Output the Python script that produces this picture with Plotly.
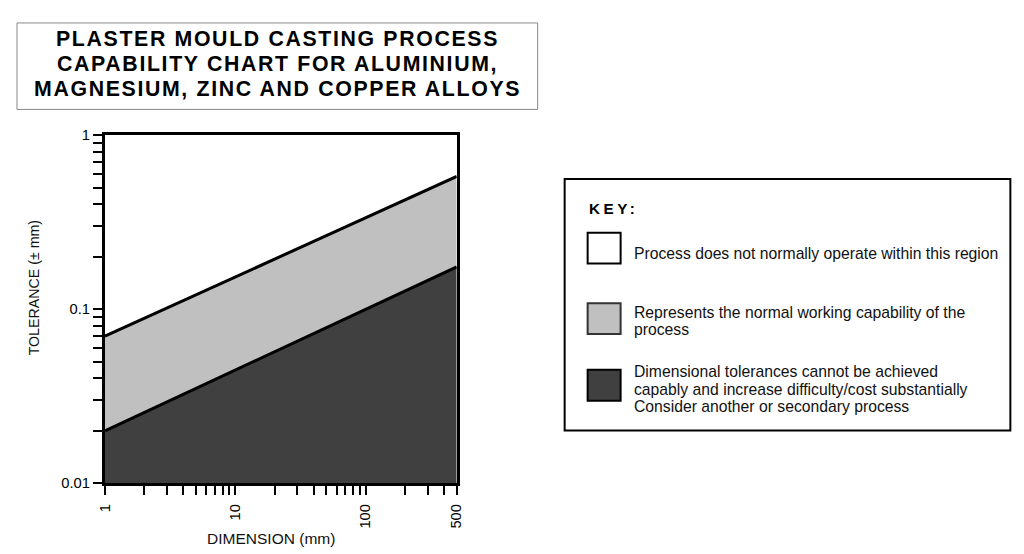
import math
import plotly.graph_objects as go

# ---- data ----
dimension_mm = [1, 500]
upper_limit = [0.07, 0.58]     # boundary between white and light grey
lower_limit = [0.02, 0.175]    # boundary between light grey and dark grey
floor_tol = [0.01, 0.01]       # bottom of chart

x_tick_vals = [1, 2, 3, 4, 5, 6, 7, 8, 9, 10, 20, 30, 40, 50, 60, 70, 80, 90,
               100, 200, 300, 400, 500]
x_tick_labels = {1: "1", 10: "10", 100: "100", 500: "500"}
y_tick_vals = [0.01, 0.02, 0.03, 0.04, 0.05, 0.06, 0.07, 0.08, 0.09,
               0.1, 0.2, 0.3, 0.4, 0.5, 0.6, 0.7, 0.8, 0.9, 1]
y_tick_labels = {0.01: "0.01", 0.1: "0.1", 1: "1"}

title_lines = ["PLASTER MOULD CASTING PROCESS",
               "CAPABILITY CHART FOR ALUMINIUM,",
               "MAGNESIUM, ZINC AND COPPER ALLOYS"]
key_texts = [
    ["Process does not normally operate within this region"],
    ["Represents the normal working capability of the", "process"],
    ["Dimensional tolerances cannot be achieved",
     "capably and increase difficulty/cost substantially",
     "Consider another or secondary process"],
]
key_fills = ["#ffffff", "#c0c0c0", "#404040"]
key_borders = ["#000000", "#333333", "#000000"]

W, H = 1024, 554
FONT = "Liberation Sans, Arial, sans-serif"
DARK = "#404040"
LIGHT = "#c0c0c0"

# calibration of rendered page vs layout pixels
SX, OX = 0.985, 15.0
SY, OY = 0.977, 14.0

def px(x):
    return ((x - OX) / SX) / W

def py(y):
    return 1 - ((y - OY) / SY) / H

def fs(s):
    return s / SX

fig = go.Figure()
fig.add_trace(go.Scatter(x=dimension_mm, y=floor_tol, mode="lines",
                         line=dict(width=0, color=DARK), hoverinfo="skip", showlegend=False))
fig.add_trace(go.Scatter(x=dimension_mm, y=lower_limit, mode="lines", fill="tonexty",
                         fillcolor=DARK, line=dict(width=0, color=DARK), showlegend=False))
fig.add_trace(go.Scatter(x=dimension_mm, y=upper_limit, mode="lines", fill="tonexty",
                         fillcolor=LIGHT, line=dict(width=0, color=LIGHT), showlegend=False))
fig.add_trace(go.Scatter(x=dimension_mm, y=lower_limit, mode="lines",
                         line=dict(width=3, color="#000000"), showlegend=False))
fig.add_trace(go.Scatter(x=dimension_mm, y=upper_limit, mode="lines",
                         line=dict(width=3, color="#000000"), showlegend=False))

fig.update_xaxes(
    type="log", range=[0, math.log10(500)],
    domain=[px(104), px(456)],
    tickmode="array", tickvals=x_tick_vals,
    ticktext=[x_tick_labels.get(v, "") for v in x_tick_vals],
    ticks="outside", ticklen=9, tickwidth=2, tickcolor="#000",
    tickangle=-90, tickfont=dict(family=FONT, size=fs(14.5), color="#000"),
    ticklabelstandoff=3,
    showline=True, linewidth=3, linecolor="#000", mirror=True,
    showgrid=False, zeroline=False,
)
fig.update_yaxes(
    type="log", range=[-2, 0],
    domain=[py(484), py(134)],
    tickmode="array", tickvals=y_tick_vals,
    ticktext=[y_tick_labels.get(v, "") for v in y_tick_vals],
    ticks="outside", ticklen=9, tickwidth=2, tickcolor="#000",
    tickfont=dict(family=FONT, size=fs(14.5), color="#000"),
    showline=True, linewidth=3, linecolor="#000", mirror=True,
    showgrid=False, zeroline=False,
)

shapes = []
# outer frame (right edge is the part that falls inside the canvas)
shapes.append(dict(type="line", xref="paper", yref="paper",
                   x0=px(1021.5), x1=px(1021.5), y0=0, y1=1,
                   line=dict(color="#333", width=2)))
# title box
shapes.append(dict(type="rect", xref="paper", yref="paper",
                   x0=px(16), x1=px(537), y0=py(108), y1=py(21),
                   line=dict(color="#888", width=1), fillcolor="white"))
# key box
shapes.append(dict(type="rect", xref="paper", yref="paper",
                   x0=px(564), x1=px(1010), y0=py(431), y1=py(178),
                   line=dict(color="#000", width=2), fillcolor="white"))
square_tops = [232, 303, 370]
for fill, border, top in zip(key_fills, key_borders, square_tops):
    shapes.append(dict(type="rect", xref="paper", yref="paper",
                       x0=px(587), x1=px(620), y0=py(top + 31), y1=py(top),
                       line=dict(color=border, width=2), fillcolor=fill))

annotations = []
title_centers = [37.5, 62.5, 87.5]
for t, cy in zip(title_lines, title_centers):
    annotations.append(dict(
        xref="paper", yref="paper", x=px(277), y=py(cy), xanchor="center", yanchor="middle",
        showarrow=False, align="center",
        text=f'<span style="letter-spacing:1.65px">{t}</span>',
        font=dict(family=FONT, size=fs(21), color="#000", weight="bold"),
    ))
annotations.append(dict(
    xref="paper", yref="paper", x=px(586), y=py(208), xanchor="left", yanchor="middle",
    showarrow=False, text='<span style="letter-spacing:3.5px">KEY:</span>',
    font=dict(family=FONT, size=fs(15), color="#000", weight="bold"),
))
line_centers = [[253], [312, 329], [372, 390, 407]]
for lines, centers in zip(key_texts, line_centers):
    for t, cy in zip(lines, centers):
        annotations.append(dict(
            xref="paper", yref="paper", x=px(631), y=py(cy), xanchor="left", yanchor="middle",
            showarrow=False, align="left", text=t,
            font=dict(family=FONT, size=fs(15.5), color="#111"),
        ))
annotations.append(dict(
    xref="paper", yref="paper", x=px(33), y=py(287), xanchor="center", yanchor="middle",
    showarrow=False, textangle=-90, text="TOLERANCE (± mm)",
    font=dict(family=FONT, size=fs(14), color="#111"),
))
annotations.append(dict(
    xref="paper", yref="paper", x=px(270), y=py(540), xanchor="center", yanchor="middle",
    showarrow=False, text="DIMENSION (mm)",
    font=dict(family=FONT, size=fs(15.3), color="#111"),
))

fig.update_layout(
    width=W, height=H, autosize=False,
    margin=dict(l=0, r=0, t=0, b=0),
    paper_bgcolor="white", plot_bgcolor="white",
    shapes=shapes, annotations=annotations,
    showlegend=False,
)

fig.write_html("out.html", config={"displayModeBar": False})
